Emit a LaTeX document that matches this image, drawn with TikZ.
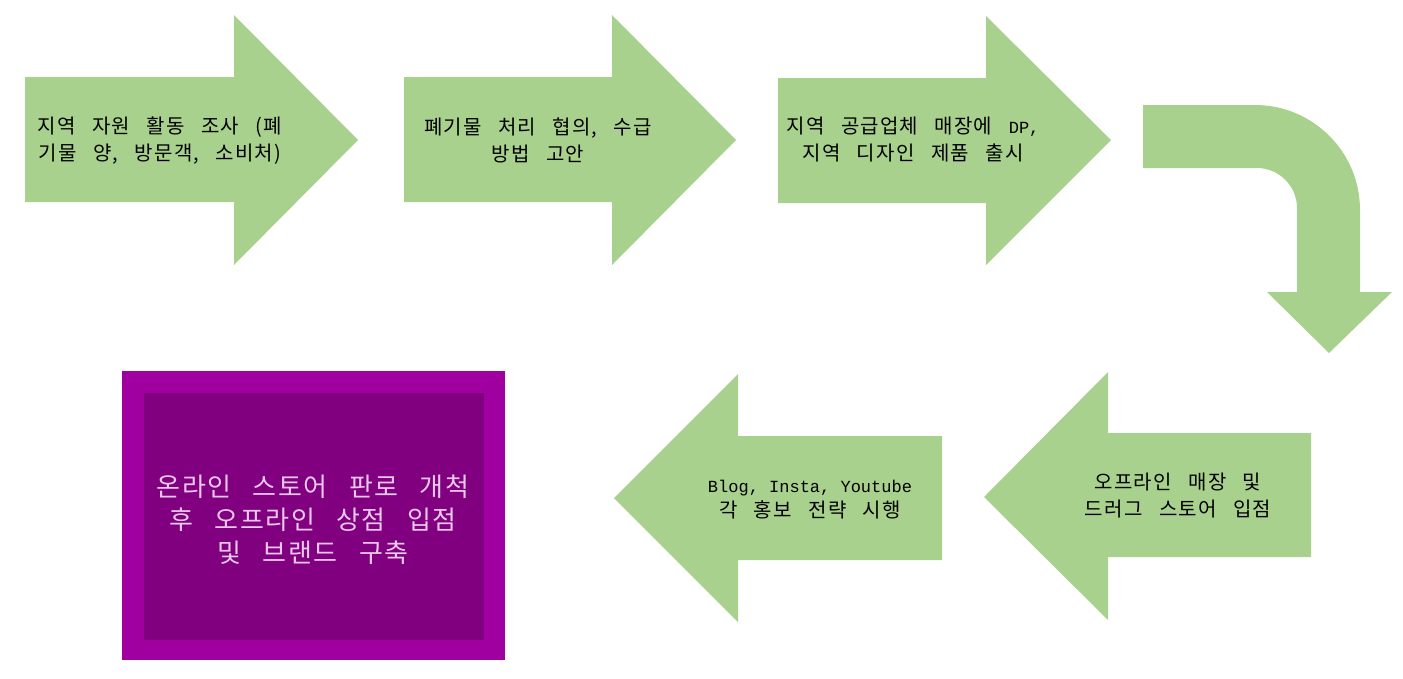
\documentclass[tikz,border=0pt]{standalone}
\usepackage{fontspec}
\newfontfamily\kr[WordSpace=2.9,LetterSpace=6]{Noto Sans CJK KR}
\newfontfamily\mono{Liberation Mono}
\definecolor{arrowgreen}{HTML}{A9D18E}
\definecolor{purpleouter}{HTML}{A000A0}
\definecolor{purpleinner}{HTML}{800080}
\definecolor{pinktext}{HTML}{EBC8EB}
\begin{document}
\begin{tikzpicture}[x=1pt,y=-1pt,
  arrowshape/.style={fill=arrowgreen, draw=none},
  lbl/.style={align=center, text=black, inner sep=0pt, font=\kr\fontsize{20}{27}\selectfont},
  bigtxt/.style={align=center, text=pinktext, inner sep=0pt, font=\kr\fontsize{26}{33}\selectfont}]
\useasboundingbox (0,0) rectangle (1403,678);

% top row arrows (pointing right)
\fill[arrowshape] (25,77) -- (234,77) -- (234,15) -- (358,140) -- (234,265) -- (234,202) -- (25,202) -- cycle;
\fill[arrowshape] (404,77) -- (612,77) -- (612,15) -- (736,140) -- (612,265) -- (612,202) -- (404,202) -- cycle;
\fill[arrowshape] (778,78) -- (986,78) -- (986,16) -- (1111,140) -- (986,265) -- (986,203) -- (778,203) -- cycle;

% bent arrow
\fill[arrowshape] (1143,105) -- (1255,105) .. controls (1313,105) and (1360,152) .. (1360,210)
  -- (1360,292) -- (1392,292) -- (1329,353) -- (1267,292) -- (1297,292) -- (1297,208)
  .. controls (1297,186) and (1279,168) .. (1257,168) -- (1143,168) -- cycle;

% bottom row arrows (pointing left)
\fill[arrowshape] (1311,433) -- (1108,433) -- (1108,372) -- (984,497) -- (1108,620) -- (1108,557) -- (1311,557) -- cycle;
\fill[arrowshape] (942,436) -- (738,436) -- (738,374) -- (614,498) -- (738,622) -- (738,560) -- (942,560) -- cycle;

% purple box
\fill[purpleouter] (122,371) rectangle (505,660);
\fill[purpleinner] (144,393) rectangle (484,640);

% labels
\node[lbl] (t1) at (160,141) {지역 자원 활동 조사 (폐\\기물 양, 방문객, 소비처)};
\node[lbl] (t2) at (538,140) {폐기물 처리 협의, 수급\\방법 고안};
\node[lbl] (t3) at (913,140) {지역 공급업체 매장에 {\mono\fontsize{17}{27}\selectfont DP,}\\지역 디자인 제품 출시};
\node[lbl] (t5) at (1178,496) {오프라인 매장 및\\드러그 스토어 입점};
\node[lbl, font=\kr\fontsize{20}{25}\selectfont] (t6) at (810,500) {{\mono\fontsize{17}{25}\selectfont Blog, Insta, Youtube}\\각 홍보 전략 시행};
\node[bigtxt] (t7) at (313,520) {온라인 스토어 판로 개척\\후 오프라인 상점 입점\\및 브랜드 구축};
\end{tikzpicture}
\end{document}
